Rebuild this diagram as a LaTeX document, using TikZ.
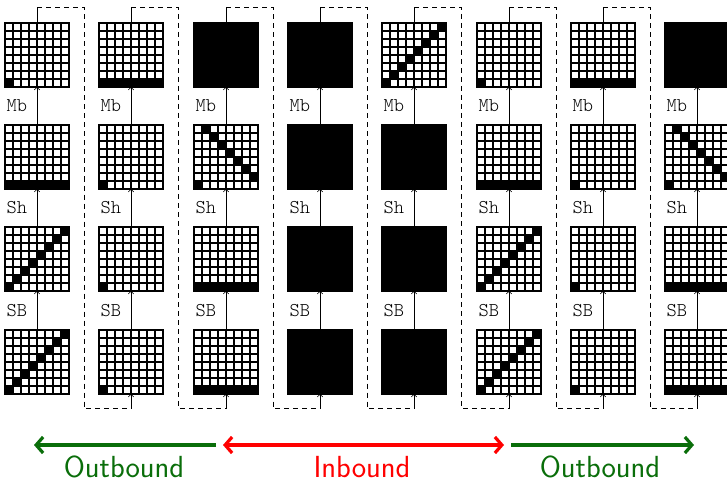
\documentclass[tikz,border=0pt]{standalone}
\usepackage{fontspec}
\newfontfamily\lightmono{lmmonolt10-regular.otf}
\usetikzlibrary{arrows.meta,calc}
\definecolor{outgreen}{RGB}{10,110,10}
\definecolor{inred}{RGB}{255,0,0}
\tikzset{bigtip/.tip={Straight Barb[length=7pt,width=16pt]}}

% cell patterns of an 8x8 grid (cells of 8pt), drawn from its south west corner
% 0 empty, 1 corner cell, 2 bottom row, 3 diagonal, 4 shifted diagonal, 5 full
\newcommand\cellfill[1]{%
  \ifcase#1\relax
  \or \fill (0,0) rectangle (8,-8);
  \or \fill (0,0) rectangle (64,-8);
  \or \foreach \k in {0,...,7} {\fill ({\k*8},{-\k*8}) rectangle ++(8,-8);}
  \or \fill (0,0) rectangle (8,-8);
      \foreach \k in {1,...,7} {\fill ({\k*8},{-(8-\k)*8}) rectangle ++(8,-8);}
  \or \fill (0,0) rectangle (64,-64);
  \fi}
\newcommand\celllines{%
  \foreach \k in {1,...,7} {%
    \draw[cellline] ({\k*8},0) -- ({\k*8},-64);
    \draw[cellline] (0,{-\k*8}) -- (64,{-\k*8});}
  \draw[cellline] (0,0) rectangle (64,-64);}

\begin{document}
\begin{tikzpicture}[x=1pt,y=-1pt,
  gridnode/.style={minimum size=64pt, inner sep=0pt, outer sep=0pt},
  cellline/.style={line width=1.3pt},
  lbl/.style={anchor=west, inner sep=0pt, font=\fontsize{19.5}{20}\lightmono},
  varrow/.style={draw, line width=0.6pt, -{Straight Barb[length=2.5pt,width=5.5pt]}},
  vlink/.style={draw, line width=0.6pt},
  dlink/.style={draw, line width=0.8pt, dash pattern=on 5pt off 4pt},
  bigarrow/.style={line width=3.2pt},
  bound/.style={font=\fontsize{30.5}{32}\selectfont\sffamily, inner sep=0pt, anchor=base}
]
\useasboundingbox (0,0) rectangle (727,481);

% columns of four grids, patterns listed from top to bottom
\foreach \col/\pa/\pb/\pc/\pd in
  {1/1/2/3/3, 2/2/1/1/1, 3/5/4/2/2, 4/5/5/5/5,
   5/3/5/5/5, 6/1/2/3/3, 7/2/1/1/1, 8/5/4/2/2} {
  \pgfmathsetmacro\L{round(5+94.3*(\col-1))}
  \foreach \r/\p in {1/\pa, 2/\pb, 3/\pc, 4/\pd} {
    \pgfmathsetmacro\T{round(22.7+102.3*(\r-1))}
    \node[gridnode] (g-\col-\r) at ({\L+32},{\T+32}) {};
    \begin{scope}[shift={(g-\col-\r.south west)}]
      \cellfill{\p}
      \celllines
    \end{scope}
  }
  \foreach \r/\t in {1/Mb, 2/Sh, 3/SB} {
    \node[lbl] (lab-\col-\r) at ({\L+1.5},{22.7+102.3*(\r-1)+63.5+19.5}) {\t};
  }
  % arrows up the column
  \foreach \r [evaluate=\r as \rb using int(\r+1)] in {1,2,3} {
    \draw[varrow] (g-\col-\rb.north) -- (g-\col-\r.south);
  }
}

% links from the top of one column to the bottom of the next
\foreach \col [evaluate=\col as \nx using int(\col+1)] in {1,...,7} {
  \coordinate (up-\col) at ($(g-\col-1.north) + (0,-15.5)$);
  \coordinate (turn-\col) at ($(g-\col-4.south east)!0.5!(g-\nx-4.south west) + (0,14.5)$);
  \coordinate (dn-\col) at ($(g-\nx-4.south) + (0,14.5)$);
  \draw[vlink] (g-\col-1.north) -- (up-\col);
  \draw[dlink] (up-\col) -| (turn-\col) -- (dn-\col);
  \draw[varrow] (dn-\col) -- (g-\nx-4.south);
}

% direction arrows
\coordinate (oa1) at (216,445);
\coordinate (oa2) at (34,445);
\coordinate (ia1) at (223,445);
\coordinate (ia2) at (504,445);
\coordinate (ob1) at (511,445);
\coordinate (ob2) at (694,445);
\draw[bigarrow, outgreen, -bigtip] (oa1) -- (oa2);
\draw[bigarrow, inred, bigtip-bigtip] (ia1) -- (ia2);
\draw[bigarrow, outgreen, -bigtip] (ob1) -- (ob2);
\node[bound, text=outgreen] (t-out1) at (124,477.5) {Outbound};
\node[bound, text=inred] (t-in) at (362,477.5) {Inbound};
\node[bound, text=outgreen] (t-out2) at (600,477.5) {Outbound};
\end{tikzpicture}
\end{document}
